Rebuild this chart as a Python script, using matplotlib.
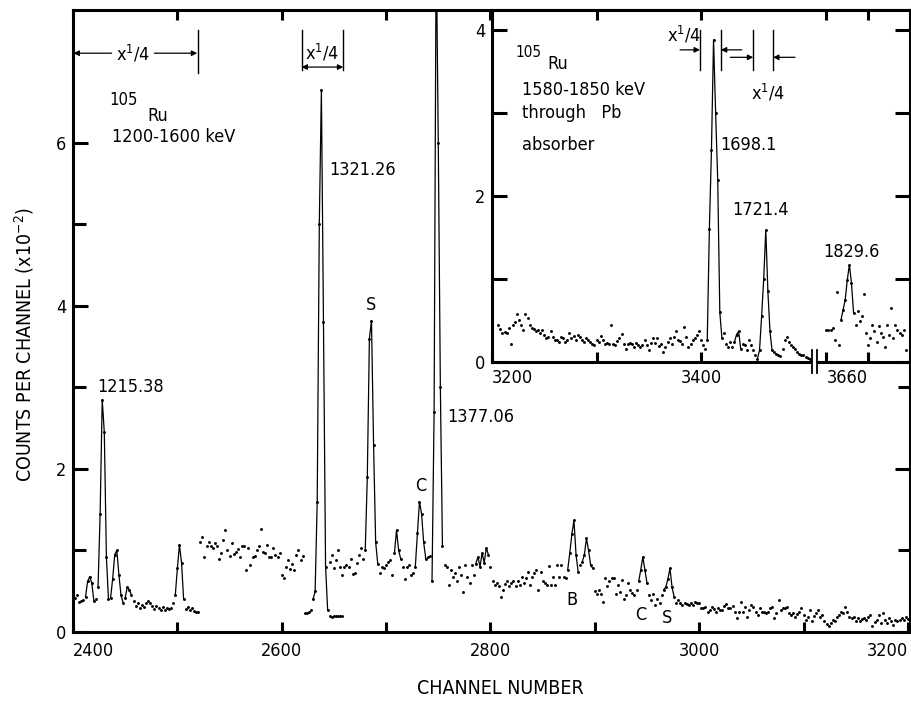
import numpy as np
import matplotlib
matplotlib.use("Agg")
import matplotlib.pyplot as plt
from matplotlib.ticker import FixedLocator

plt.rcParams['font.family'] = ['DejaVu Sans']
plt.rcParams['font.stretch'] = 'condensed'
plt.rcParams['mathtext.fontset'] = 'dejavusans'

# ---- main spectrum, 1200-1600 keV (counts x10^-2, every 2nd channel) ----
main_a_start = 2402   # x1/4 section
main_a = [0.42, 0.45, 0.37, 0.38, 0.39, 0.43, 0.62, 0.68, 0.60, 0.38,
          0.41, 0.55, 1.45, 2.85, 2.45, 0.92, 0.40, 0.42, 0.65, 0.95,
          1.00, 0.70, 0.45, 0.36, 0.42, 0.55, 0.52, 0.45, 0.38, 0.32,
          0.35, 0.29, 0.33, 0.31, 0.35, 0.38, 0.36, 0.32, 0.28, 0.32,
          0.30, 0.27, 0.31, 0.27, 0.30, 0.28, 0.30, 0.36, 0.45, 0.78,
          1.07, 0.85, 0.40, 0.28, 0.31, 0.27, 0.30, 0.26, 0.25, 0.24]

main_b_start = 2522
main_b = [1.11, 1.17, 0.92, 1.06, 1.11, 1.06, 1.03, 1.09, 1.05, 0.90,
          0.97, 1.13, 1.25, 1.00, 0.93, 1.09, 0.96, 0.98, 1.02, 0.92,
          1.05, 1.06, 0.76, 1.03, 0.82, 0.92, 0.93, 1.00, 1.05, 1.26,
          0.98, 0.97, 1.07, 0.92, 0.92, 1.03, 0.95, 0.92, 0.97, 0.70,
          0.66, 0.80, 0.88, 0.77, 0.84, 0.76, 0.95, 1.01, 0.88, 0.93]

main_c_start = 2622   # x1/4 section
main_c = [0.23, 0.23, 0.24, 0.27, 0.40, 0.50, 1.60, 5.00, 6.65, 3.80,
          0.80, 0.27, 0.20, 0.19, 0.20, 0.20, 0.20, 0.20, 0.20]

main_d_start = 2646
main_d = [0.86, 0.94, 0.78, 0.88, 1.00, 0.80, 0.70, 0.80, 0.82, 0.80,
          0.90, 0.71, 0.72, 0.85, 0.95, 1.03, 0.90, 1.00, 1.90, 3.60,
          3.82, 2.30, 1.10, 0.84, 0.72, 0.80, 0.78, 0.82, 0.86, 0.88,
          0.70, 0.97, 1.25, 1.00, 0.90, 0.80, 0.65, 0.80, 0.82, 0.70,
          0.72, 0.80, 1.21, 1.60, 1.45, 1.10, 0.90, 0.92, 0.93, 0.62,
          2.70, 8.50, 6.00, 3.00, 1.05, 0.82, 0.80, 0.58, 0.76, 0.68,
          0.72, 0.62, 0.80, 0.70, 0.49, 0.82, 0.68, 0.60, 0.82, 0.70,
          0.84, 0.92, 0.80, 0.97, 0.85, 1.03, 0.95, 0.80,
          0.62, 0.58, 0.60, 0.56, 0.43, 0.52, 0.59, 0.62, 0.56, 0.60,
          0.63, 0.56, 0.62, 0.58, 0.68, 0.60, 0.66, 0.74, 0.58, 0.68,
          0.72, 0.76, 0.51, 0.74, 0.62, 0.60, 0.58, 0.81, 0.58, 0.68,
          0.58, 0.82, 0.68, 0.82, 0.68, 0.66, 0.76, 0.97, 1.20, 1.37,
          0.95, 0.74, 0.82, 0.86, 0.95, 1.15, 1.00, 0.82, 0.78]

main_e_start = 2900
main_e = [0.50, 0.47, 0.52, 0.47, 0.37, 0.66, 0.56, 0.62, 0.66, 0.66,
          0.47, 0.58, 0.49, 0.64, 0.41, 0.45, 0.60, 0.52, 0.48, 0.45,
          0.52, 0.62, 0.76, 0.92, 0.76, 0.60, 0.45, 0.39, 0.47, 0.33,
          0.41, 0.35, 0.45, 0.52, 0.55, 0.65, 0.78, 0.55, 0.43, 0.35,
          0.39, 0.35, 0.33, 0.35, 0.34, 0.33, 0.35, 0.33, 0.37, 0.35,
          0.35, 0.29, 0.29, 0.31, 0.25, 0.27, 0.31, 0.28, 0.25, 0.29,
          0.27, 0.27, 0.32, 0.34, 0.29, 0.30, 0.32, 0.25, 0.17, 0.25,
          0.37, 0.25, 0.31, 0.19, 0.27, 0.33, 0.31, 0.25, 0.21, 0.29,
          0.25, 0.24, 0.23, 0.25, 0.29, 0.31, 0.17, 0.23, 0.39, 0.27,
          0.29, 0.30, 0.31, 0.23, 0.21, 0.23, 0.19, 0.22, 0.25, 0.29,
          0.21, 0.15, 0.19, 0.27, 0.13, 0.20, 0.23, 0.27, 0.19, 0.21,
          0.13, 0.10, 0.07, 0.11, 0.15, 0.13, 0.19, 0.21, 0.25, 0.23,
          0.31, 0.25, 0.19, 0.17, 0.19, 0.13, 0.17, 0.13, 0.16, 0.17,
          0.15, 0.19, 0.21, 0.07, 0.12, 0.15, 0.21, 0.11, 0.23, 0.15,
          0.11, 0.17, 0.13, 0.09, 0.15, 0.13, 0.15, 0.17, 0.15, 0.19,
          0.16]

main_peaks = [(2412, 2420), (2424, 2434), (2436, 2448), (2450, 2456), (2498, 2506),
              (2630, 2644), (2680, 2692), (2708, 2714), (2728, 2738), (2744, 2754),
              (2786, 2798), (2874, 2884), (2888, 2898), (2942, 2950), (2966, 2976)]

main_labels = [("1215.38", 2423, 3.0), ("1321.26", 2646, 5.67), ("S", 2686, 4.01),
               ("C", 2733, 1.79), ("1377.06", 2759, 2.64), ("B", 2878, 0.39),
               ("C", 2944, 0.21), ("S", 2969, 0.17)]

# ---- inset, 1580-1850 keV through Pb absorber ----
ins_a_start = 3206
ins_a = [0.45, 0.40, 0.35, 0.36, 0.35, 0.41, 0.22, 0.45, 0.48, 0.58,
         0.51, 0.45, 0.39, 0.58, 0.53, 0.44, 0.41, 0.40, 0.37, 0.39,
         0.35, 0.39, 0.33, 0.29, 0.30, 0.37, 0.30, 0.27, 0.26, 0.24,
         0.30, 0.29, 0.24, 0.27, 0.35, 0.29, 0.31, 0.27, 0.32, 0.30,
         0.27, 0.24, 0.29, 0.26, 0.24, 0.22, 0.20, 0.27, 0.24, 0.31,
         0.27, 0.22, 0.23, 0.22, 0.45, 0.22, 0.20, 0.25, 0.29, 0.34,
         0.22, 0.16, 0.22, 0.23, 0.22, 0.18, 0.23, 0.20, 0.18, 0.20,
         0.27, 0.20, 0.14, 0.23, 0.29, 0.23, 0.29, 0.19, 0.22, 0.12,
         0.18, 0.24, 0.29, 0.22, 0.30, 0.37, 0.27, 0.25, 0.22, 0.42,
         0.30, 0.18, 0.22, 0.27, 0.29, 0.32, 0.37, 0.27, 0.20, 0.16,
         0.27, 1.60, 2.55, 3.88, 3.00, 2.19, 0.60, 0.29, 0.35, 0.22,
         0.18, 0.24, 0.18, 0.24, 0.33, 0.37, 0.16, 0.22, 0.20, 0.14,
         0.27, 0.20, 0.14, 0.08, 0.04, 0.14, 0.55, 1.00, 1.59, 0.85,
         0.37, 0.14, 0.12, 0.10, 0.08, 0.07, 0.16, 0.27, 0.30, 0.24,
         0.20, 0.18, 0.16, 0.12, 0.10, 0.08, 0.08, 0.06, 0.05, 0.04]

ins_b_start = 3620   # after the axis break
ins_b = [0.39, 0.38, 0.39, 0.41, 0.27, 0.84, 0.20, 0.51, 0.63, 0.75,
         0.99, 1.17, 0.95, 0.59, 0.45, 0.61, 0.49, 0.55, 0.82, 0.35,
         0.20, 0.29, 0.45, 0.37, 0.24, 0.43, 0.35, 0.30, 0.18, 0.45,
         0.33, 0.65, 0.29, 0.45, 0.39, 0.35, 0.33, 0.39, 0.14]

ins_peaks = [(3406, 3420), (3432, 3438), (3454, 3468), (3634, 3646)]
ins_labels = [("1698.1", 3418, 2.61, 'left'), ("1721.4", 3457, 1.83, 'center'),
              ("1829.6", 3544, 1.33, 'center')]

BREAK_SHIFT = 100   # channels removed by the axis break in the inset
X14 = r"x$^1$/4"


def channels(start, vals):
    return np.arange(start, start + 2 * len(vals), 2)


def draw(ax, x, y, peaks, shift=0):
    x = np.asarray(x, float)
    y = np.asarray(y, float)
    ax.plot(x - shift, y, 'o', ms=2.1, color='black', mec='none')
    for lo, hi in peaks:
        m = (x >= lo) & (x <= hi)
        if m.sum() > 1:
            ax.plot(x[m] - shift, y[m], '-', lw=0.9, color='black')


fig = plt.figure(figsize=(9.12, 7.02), dpi=100)
ax = fig.add_axes([73 / 912, 1 - 632 / 702, 837 / 912, 622 / 702])
ins = fig.add_axes([492 / 912, 1 - 362 / 702, 418 / 912, 352 / 702])

for a in (ax, ins):
    for s in a.spines.values():
        s.set_linewidth(2.2)
    a.tick_params(which='both', direction='in', top=True, right=True,
                  width=2.2, labelsize=13, pad=5)
    a.tick_params(axis='x', which='both', length=7)
    a.tick_params(axis='y', which='major', length=11)
    a.tick_params(axis='y', which='minor', length=9)

# main
starts = [main_a_start, main_b_start, main_c_start, main_d_start, main_e_start]
for st, vals in zip(starts, [main_a, main_b, main_c, main_d, main_e]):
    draw(ax, channels(st, vals), vals, main_peaks)

ax.set_xlim(2400, 3202)
ax.set_ylim(0, 7.63)
ax.xaxis.set_major_locator(FixedLocator([2400, 2600, 2800, 3000, 3200]))
ax.xaxis.set_minor_locator(FixedLocator([2500, 2700, 2900, 3100]))
ax.yaxis.set_major_locator(FixedLocator([0, 2, 4, 6]))
ax.yaxis.set_minor_locator(FixedLocator([1, 3, 5]))
ax.set_xticklabels(['2400', '2600', '2800', '3000', '3200'])
xl = ax.get_xticklabels()
xl[0].set_ha('left')
xl[-1].set_ha('right')
ax.tick_params(axis='x', pad=7)

for txt, cx, cy in main_labels:
    ax.text(cx, cy, txt, fontsize=13, ha='left' if len(txt) > 1 else 'center', va='center')

ax.text(2435, 6.53, "105", fontsize=12, va='center')
ax.text(2471, 6.33, "Ru", fontsize=13, va='center')
ax.text(2437, 6.07, "1200-1600 keV", fontsize=13, va='center')

arr = dict(arrowstyle='-|>', lw=0.9, color='black', mutation_scale=8, shrinkA=0, shrinkB=0)
ax.annotate("", xy=(2400.5, 7.1), xytext=(2437, 7.1), arrowprops=arr)
ax.annotate("", xy=(2519, 7.1), xytext=(2478, 7.1), arrowprops=arr)
ax.text(2458, 7.09, X14, fontsize=13, ha='center', va='center')
ax.plot([2519.6, 2519.6], [6.86, 7.39], color='black', lw=1)
for cx in (2619, 2659):
    ax.plot([cx, cx], [6.9, 7.39], color='black', lw=1)
ax.annotate("", xy=(2619, 6.93), xytext=(2659, 6.93),
            arrowprops=dict(arrowstyle='<|-|>', lw=0.9, color='black',
                            mutation_scale=8, shrinkA=0, shrinkB=0))
ax.text(2639, 7.1, X14, fontsize=13, ha='center', va='center')

fig.text(24 / 912, 1 - 345 / 702, "COUNTS PER CHANNEL (x10$^{-2}$)", fontsize=14,
         rotation=90, ha='center', va='center')
fig.text(500 / 912, 1 - 688 / 702, "CHANNEL NUMBER", fontsize=14, ha='center', va='center')

# inset
ins.set_facecolor('white')
ins.set_zorder(3)
draw(ins, channels(ins_a_start, ins_a), ins_a, ins_peaks)
draw(ins, channels(ins_b_start, ins_b), ins_b, ins_peaks, shift=BREAK_SHIFT)

ins.set_xlim(3200, 3600)
ins.set_ylim(0, 4.24)
ins.xaxis.set_major_locator(FixedLocator([3200, 3400, 3660 - BREAK_SHIFT]))
ins.xaxis.set_minor_locator(FixedLocator([3300, 3620 - BREAK_SHIFT]))
ins.set_xticklabels(['3200', '3400', '3660'])
il = ins.get_xticklabels()
il[0].set_ha('left')
il[-1].set_ha('right')
ins.yaxis.set_major_locator(FixedLocator([0, 2, 4]))
ins.yaxis.set_minor_locator(FixedLocator([1, 3]))
ins.tick_params(axis='y', which='minor', length=11)

# axis break marks
for bx in (3506, 3511):
    ins.plot([bx, bx], [-0.03, 0.035], transform=ins.get_xaxis_transform(),
             color='black', lw=1.3, clip_on=False, zorder=5)
ins.fill_between([3506.6, 3510.4], -0.01, 0.01, transform=ins.get_xaxis_transform(),
                 color='white', clip_on=False, zorder=4)

ins.text(3222, 3.73, "105", fontsize=11, va='center')
ins.text(3253, 3.59, "Ru", fontsize=13, va='center')
ins.text(3229, 3.28, "1580-1850 keV", fontsize=13, va='center')
ins.text(3229, 3.00, "through   Pb", fontsize=13, va='center')
ins.text(3229, 2.61, "absorber", fontsize=13, va='center')
for txt, cx, cy, ha in ins_labels:
    ins.text(cx, cy, txt, fontsize=13, ha=ha, va='center')

for cx in (3399, 3419, 3450, 3469):
    ins.plot([cx, cx], [3.52, 4.0], color='black', lw=1)
ins.annotate("", xy=(3399, 3.76), xytext=(3380, 3.76), arrowprops=arr)
ins.annotate("", xy=(3419, 3.76), xytext=(3439, 3.76), arrowprops=arr)
ins.annotate("", xy=(3450, 3.67), xytext=(3428, 3.67), arrowprops=arr)
ins.annotate("", xy=(3469, 3.67), xytext=(3490, 3.67), arrowprops=arr)
ins.text(3384, 3.94, X14, fontsize=13, ha='center', va='center')
ins.text(3464, 3.24, X14, fontsize=13, ha='center', va='center')

fig.savefig("out.png", dpi=100)
